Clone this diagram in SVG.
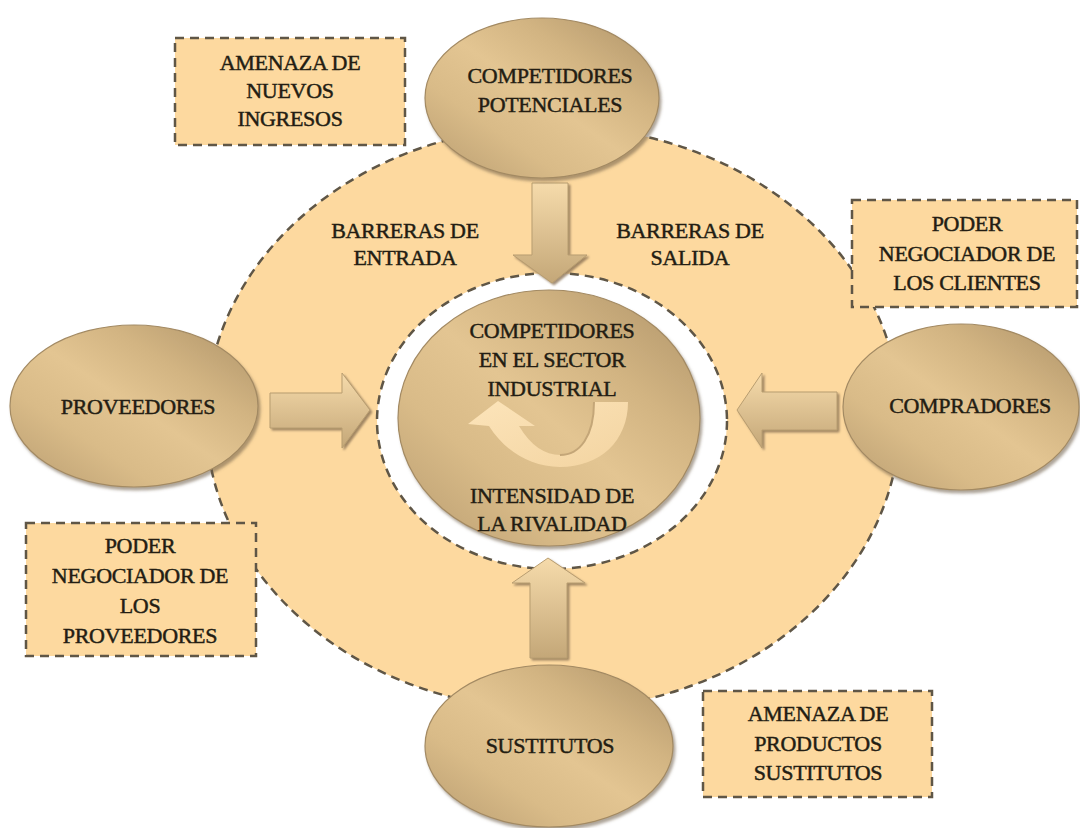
<svg xmlns="http://www.w3.org/2000/svg" width="1080" height="828" viewBox="0 0 1080 828">
  <defs>
    <linearGradient id="gold" x1="0" y1="1" x2="1" y2="0">
      <stop offset="0" stop-color="#b89c70"/>
      <stop offset="0.3" stop-color="#d9bb88"/>
      <stop offset="0.5" stop-color="#e3c592"/>
      <stop offset="0.7" stop-color="#d2b482"/>
      <stop offset="1" stop-color="#ad9268"/>
    </linearGradient>
    <linearGradient id="arrowFill" x1="0" y1="0" x2="0" y2="1">
      <stop offset="0" stop-color="#f6dbab"/>
      <stop offset="1" stop-color="#c4a778"/>
    </linearGradient>
    <linearGradient id="uturnFill" x1="0" y1="0" x2="1" y2="1">
      <stop offset="0" stop-color="#fee6bc"/>
      <stop offset="1" stop-color="#f4d5a2"/>
    </linearGradient>
    <filter id="shadow" x="-10%" y="-10%" width="125%" height="125%">
      <feDropShadow dx="2" dy="3" stdDeviation="1.5" flood-color="#6b5a44" flood-opacity="0.55"/>
    </filter>
    <filter id="arrowShadow" x="-10%" y="-10%" width="130%" height="130%">
      <feDropShadow dx="2" dy="2" stdDeviation="0.8" flood-color="#8a7252" flood-opacity="0.8"/>
    </filter>
    <style>
      .ring { fill: #fdd99f; stroke: #5f5646; stroke-width: 2.5; stroke-dasharray: 9 6; }
      .hole { fill: #ffffff; stroke: #5f5646; stroke-width: 2.5; stroke-dasharray: 9 6; }
      .node { fill: url(#gold); stroke: #a38a63; stroke-width: 1.2; filter: url(#shadow); }
      .box { fill: #fdd99f; stroke: #5f5646; stroke-width: 2.5; stroke-dasharray: 9 6; }
      .arrow { fill: url(#arrowFill); stroke: #b89d70; stroke-width: 1; filter: url(#arrowShadow); }
      .lbl { font-family: "Liberation Serif", "Times New Roman", serif; font-size: 22px; fill: #231d13; stroke: #231d13; stroke-width: 0.45; letter-spacing: -0.3px; text-anchor: middle; }
    </style>
  </defs>

  <rect width="1080" height="828" fill="#ffffff"/>

  <!-- outer ring of the industry and the inner arena -->
  <g id="ring">
    <ellipse class="ring" cx="553" cy="418" rx="347" ry="292"/>
    <ellipse class="hole" cx="552" cy="421" rx="175" ry="148"/>
  </g>

  <!-- ring labels -->
  <g id="barreras-entrada">
    <text class="lbl" x="405" y="238">BARRERAS DE</text>
    <text class="lbl" x="405" y="265">ENTRADA</text>
  </g>
  <g id="barreras-salida">
    <text class="lbl" x="690" y="238">BARRERAS DE</text>
    <text class="lbl" x="690" y="265">SALIDA</text>
  </g>

  <!-- central node -->
  <g id="rivalidad">
    <ellipse class="node" cx="549" cy="418" rx="151" ry="128"/>
    <text class="lbl" x="552" y="338">COMPETIDORES</text>
    <text class="lbl" x="552" y="367">EN EL SECTOR</text>
    <text class="lbl" x="552" y="396">INDUSTRIAL</text>
    <path d="M628 402 C628 441 600 467 560 467 C530 467 505 451 489 426 L468 424 L498 401 L535 426 L519 426 C531 446 545 455 560 455 C580 455 594 436 594 402 Z" fill="url(#uturnFill)" opacity="0.95"/>
    <path d="M594 402 C594 436 580 455 560 455" fill="none" stroke="#c4a678" stroke-width="2"/>
    <text class="lbl" x="552" y="503">INTENSIDAD DE</text>
    <text class="lbl" x="552" y="531">LA RIVALIDAD</text>
  </g>

  <!-- block arrows towards the centre -->
  <g id="connectors">
    <path class="arrow" d="M532 183 L568 183 L568 255 L587 255 L552 283 L513 255 L532 255 Z"/>
    <path class="arrow" d="M270 393 L342 393 L342 373 L370 410 L342 448 L342 428 L270 428 Z"/>
    <path class="arrow" d="M837 392 L762 392 L762 373 L737 410 L762 448 L762 430 L837 430 Z"/>
    <path class="arrow" d="M530 658 L567 658 L567 583 L585 583 L548 558 L512 583 L530 583 Z"/>
  </g>

  <!-- outer forces -->
  <g id="competidores-potenciales">
    <ellipse class="node" cx="542" cy="98" rx="117" ry="80"/>
    <text class="lbl" x="550" y="83">COMPETIDORES</text>
    <text class="lbl" x="550" y="112">POTENCIALES</text>
  </g>
  <g id="proveedores">
    <ellipse class="node" cx="134" cy="406" rx="124" ry="81"/>
    <text class="lbl" x="138" y="414">PROVEEDORES</text>
  </g>
  <g id="compradores">
    <ellipse class="node" cx="961" cy="407" rx="118" ry="83"/>
    <text class="lbl" x="970" y="413">COMPRADORES</text>
  </g>
  <g id="sustitutos">
    <ellipse class="node" cx="549" cy="746" rx="124" ry="81"/>
    <text class="lbl" x="550" y="753">SUSTITUTOS</text>
  </g>

  <!-- threat / power notes -->
  <g id="amenaza-nuevos">
    <rect class="box" x="175" y="38" width="230" height="107"/>
    <text class="lbl" x="290" y="70">AMENAZA DE</text>
    <text class="lbl" x="290" y="98">NUEVOS</text>
    <text class="lbl" x="290" y="126">INGRESOS</text>
  </g>
  <g id="poder-clientes">
    <rect class="box" x="852" y="200" width="225" height="107"/>
    <text class="lbl" x="967" y="231">PODER</text>
    <text class="lbl" x="967" y="261">NEGOCIADOR DE</text>
    <text class="lbl" x="967" y="290">LOS CLIENTES</text>
  </g>
  <g id="poder-proveedores">
    <rect class="box" x="26" y="523" width="230" height="133"/>
    <text class="lbl" x="140" y="553">PODER</text>
    <text class="lbl" x="140" y="583">NEGOCIADOR DE</text>
    <text class="lbl" x="140" y="613">LOS</text>
    <text class="lbl" x="140" y="643">PROVEEDORES</text>
  </g>
  <g id="amenaza-sustitutos">
    <rect class="box" x="703" y="691" width="229" height="106"/>
    <text class="lbl" x="818" y="721">AMENAZA DE</text>
    <text class="lbl" x="818" y="751">PRODUCTOS</text>
    <text class="lbl" x="818" y="780">SUSTITUTOS</text>
  </g>
</svg>
